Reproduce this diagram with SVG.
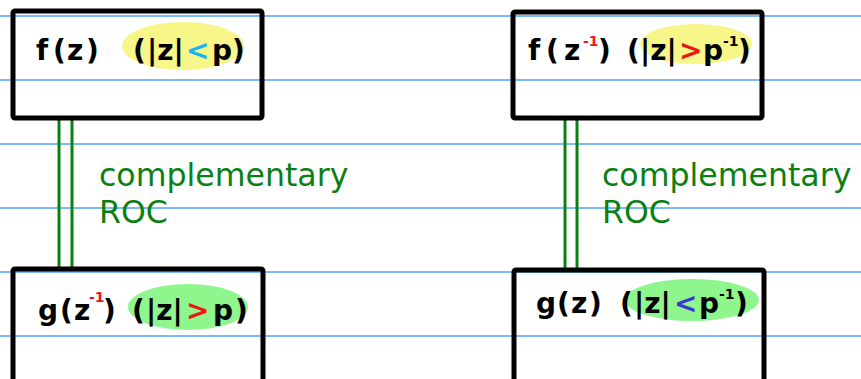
<svg xmlns="http://www.w3.org/2000/svg" width="861" height="379" viewBox="0 0 861 379">
<style>
.rule{stroke:#4ea5f5;stroke-width:1.3}
.box{fill:none;stroke:#000;stroke-width:5;stroke-linejoin:round}
.conn{stroke:#0b8012;stroke-width:3}
.hw{font-family:"DejaVu Sans",sans-serif;font-weight:bold;font-size:28px;fill:#000}
.sup{font-size:14px}
.lbl{font-family:"DejaVu Sans",sans-serif;font-size:31.6px;fill:#0b8012}
.red{fill:#f01515}
.cyan{fill:#18b4f0}
.blue{fill:#3a3ad0}
.yel{fill:#f7f688}
.grn{fill:#8ef68c}
</style>
<rect width="861" height="379" fill="#fff"/>
<g id="rules">
<line class="rule" x1="0" y1="16" x2="861" y2="16"/>
<line class="rule" x1="0" y1="80" x2="861" y2="80"/>
<line class="rule" x1="0" y1="144" x2="861" y2="144"/>
<line class="rule" x1="0" y1="208" x2="861" y2="208"/>
<line class="rule" x1="0" y1="272" x2="861" y2="272"/>
<line class="rule" x1="0" y1="336" x2="861" y2="336"/>
</g>
<g id="connectors">
<line class="conn" x1="59" y1="119" x2="59" y2="268"/>
<line class="conn" x1="72" y1="119" x2="72" y2="268"/>
<line class="conn" x1="565" y1="119" x2="565" y2="268"/>
<line class="conn" x1="577" y1="119" x2="577" y2="268"/>
<text class="lbl" x="99" y="186">complementary</text>
<text class="lbl" x="99" y="223">ROC</text>
<text class="lbl" x="602" y="186">complementary</text>
<text class="lbl" x="602" y="223">ROC</text>
</g>
<g id="node-f-z">
<ellipse class="yel" cx="183" cy="46" rx="61" ry="24"/>
<rect class="box" x="13" y="11" width="249" height="107" rx="2"/>
<text class="hw" y="60"><tspan x="36">f</tspan><tspan x="53">(</tspan><tspan x="67">z</tspan><tspan x="86">)</tspan><tspan x="133">(</tspan><tspan x="147">|z|</tspan><tspan x="186" class="cyan">&lt;</tspan><tspan x="212">p</tspan><tspan x="232">)</tspan></text>
</g>
<g id="node-f-zinv">
<ellipse class="yel" cx="696" cy="44" rx="56" ry="20"/>
<rect class="box" x="513" y="12" width="249" height="106" rx="2"/>
<text class="hw" y="60"><tspan x="528">f</tspan><tspan x="546">(</tspan><tspan x="564">z</tspan><tspan x="598">)</tspan><tspan x="627">(</tspan><tspan x="640">|z|</tspan><tspan x="679" class="red">&gt;</tspan><tspan x="703">p</tspan><tspan x="738">)</tspan></text>
<text class="hw sup red" x="583" y="46">-1</text>
<text class="hw sup" x="723" y="46">-1</text>
</g>
<g id="node-g-zinv">
<ellipse class="grn" cx="188" cy="307" rx="60" ry="23"/>
<rect class="box" x="13" y="269" width="250" height="120" rx="2"/>
<text class="hw" y="320"><tspan x="38">g</tspan><tspan x="60">(</tspan><tspan x="74">z</tspan><tspan x="103">)</tspan><tspan x="132">(</tspan><tspan x="146">|z|</tspan><tspan x="186" class="red">&gt;</tspan><tspan x="213">p</tspan><tspan x="235">)</tspan></text>
<text class="hw sup red" x="89" y="302">-1</text>
</g>
<g id="node-g-z">
<ellipse class="grn" cx="692" cy="300" rx="67" ry="21"/>
<rect class="box" x="514" y="270" width="250" height="120" rx="2"/>
<text class="hw" y="313"><tspan x="536">g</tspan><tspan x="557">(</tspan><tspan x="571">z</tspan><tspan x="589">)</tspan><tspan x="620">(</tspan><tspan x="634">|z|</tspan><tspan x="674" class="blue">&lt;</tspan><tspan x="699">p</tspan><tspan x="735">)</tspan></text>
<text class="hw sup" x="719" y="299">-1</text>
</g>
</svg>
